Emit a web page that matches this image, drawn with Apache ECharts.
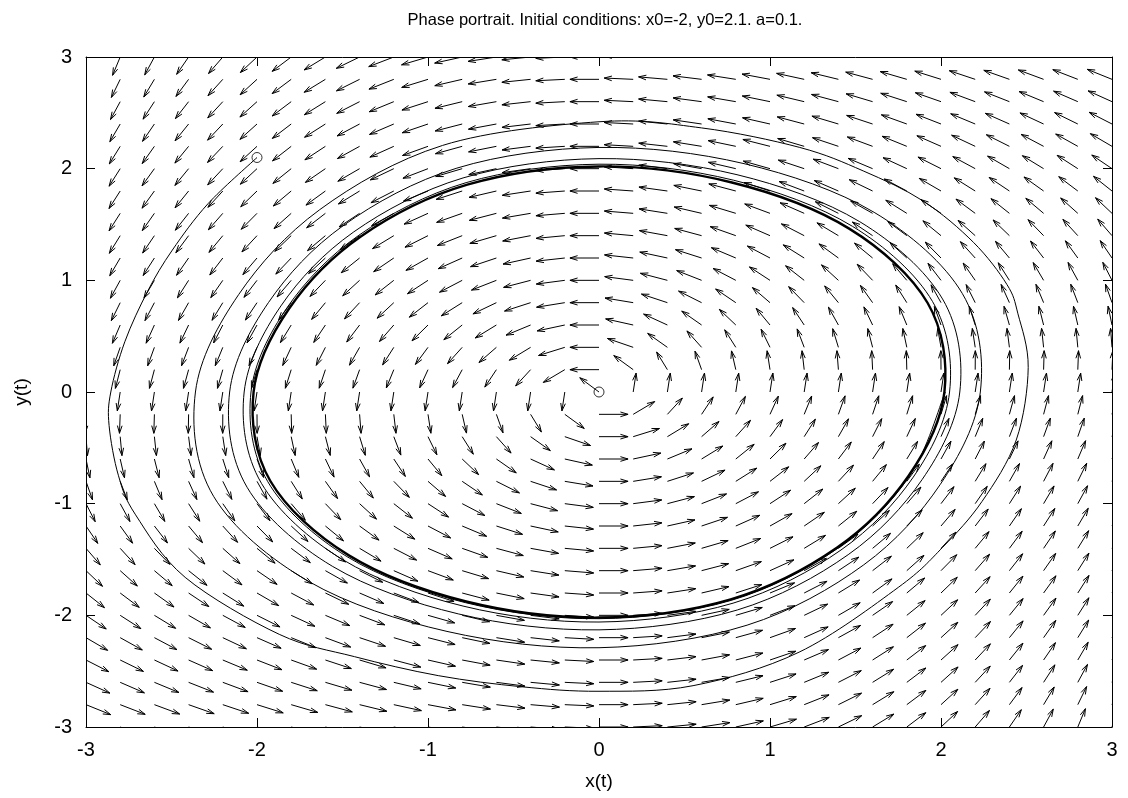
<!DOCTYPE html>
<html>
<head>
<meta charset="utf-8">
<script src="https://cdn.jsdelivr.net/npm/echarts/dist/echarts.min.js"></script>
<style>
  html, body { margin: 0; padding: 0; background: #fff; }
  #chart { width: 1128px; height: 798px; }
</style>
</head>
<body>
<div id="chart"></div>
<script>
// ---------------- DATA ----------------
const titleText = 'Phase portrait. Initial conditions: x0=-2, y0=2.1. a=0.1.';
const xAxisName = 'x(t)';
const yAxisName = 'y(t)';
const tickValues = [-3, -2, -1, 0, 1, 2, 3];

// Grid of arrow tails (columns left->right, rows top->bottom)
const gridX = [-3,-2.8,-2.6,-2.4,-2.2,-2,-1.8,-1.6,-1.4,-1.2,-1,-0.8,-0.6,-0.4,-0.2,0,0.2,0.4,0.6,0.8,1,1.2,1.4,1.6,1.8,2,2.2,2.4,2.6,2.8,3];
const gridY = [3,2.8,2.6,2.4,2.2,2,1.8,1.6,1.4,1.2,1,0.8,0.6,0.4,0.2,0,-0.2,-0.4,-0.6,-0.8,-1,-1.2,-1.4,-1.6,-1.8,-2,-2.2,-2.4,-2.6,-2.8,-3];

// Horizontal component of the arrow directions, one row per gridY value
const fieldVx = [
  [-0.6,-0.76,-0.92,-1.08,-1.24,-1.4,-1.56,-1.72,-1.88,-2.04,-2.2,-2.36,-2.52,-2.68,-2.84,-3,-3.16,-3.32,-3.48,-3.64,-3.8,-3.96,-4.12,-4.28,-4.44,-4.6,-4.76,-4.92,-5.08,-5.24,-5.4],
  [-0.75,-0.89,-1.02,-1.16,-1.3,-1.43,-1.57,-1.71,-1.84,-1.98,-2.12,-2.25,-2.39,-2.53,-2.66,-2.8,-2.94,-3.07,-3.21,-3.35,-3.48,-3.62,-3.76,-3.89,-4.03,-4.17,-4.31,-4.44,-4.58,-4.72,-4.85],
  [-0.87,-0.99,-1.1,-1.22,-1.33,-1.45,-1.56,-1.68,-1.79,-1.91,-2.02,-2.14,-2.25,-2.37,-2.49,-2.6,-2.72,-2.83,-2.95,-3.06,-3.18,-3.29,-3.41,-3.52,-3.64,-3.75,-3.87,-3.98,-4.1,-4.21,-4.33],
  [-0.97,-1.07,-1.16,-1.26,-1.35,-1.45,-1.54,-1.64,-1.73,-1.83,-1.92,-2.02,-2.11,-2.21,-2.3,-2.4,-2.5,-2.59,-2.69,-2.78,-2.88,-2.97,-3.07,-3.16,-3.26,-3.35,-3.45,-3.54,-3.64,-3.73,-3.83],
  [-1.05,-1.13,-1.2,-1.28,-1.36,-1.43,-1.51,-1.59,-1.66,-1.74,-1.82,-1.89,-1.97,-2.05,-2.12,-2.2,-2.28,-2.35,-2.43,-2.51,-2.58,-2.66,-2.74,-2.81,-2.89,-2.97,-3.05,-3.12,-3.2,-3.28,-3.35],
  [-1.1,-1.16,-1.22,-1.28,-1.34,-1.4,-1.46,-1.52,-1.58,-1.64,-1.7,-1.76,-1.82,-1.88,-1.94,-2,-2.06,-2.12,-2.18,-2.24,-2.3,-2.36,-2.42,-2.48,-2.54,-2.6,-2.66,-2.72,-2.78,-2.84,-2.9],
  [-1.13,-1.17,-1.22,-1.26,-1.31,-1.35,-1.4,-1.44,-1.49,-1.53,-1.58,-1.62,-1.67,-1.71,-1.76,-1.8,-1.85,-1.89,-1.93,-1.98,-2.02,-2.07,-2.11,-2.16,-2.2,-2.25,-2.29,-2.34,-2.38,-2.43,-2.47],
  [-1.13,-1.16,-1.19,-1.23,-1.26,-1.29,-1.32,-1.35,-1.38,-1.41,-1.44,-1.48,-1.51,-1.54,-1.57,-1.6,-1.63,-1.66,-1.69,-1.73,-1.76,-1.79,-1.82,-1.85,-1.88,-1.91,-1.94,-1.97,-2.01,-2.04,-2.07],
  [-1.11,-1.13,-1.15,-1.17,-1.19,-1.21,-1.23,-1.25,-1.27,-1.29,-1.3,-1.32,-1.34,-1.36,-1.38,-1.4,-1.42,-1.44,-1.46,-1.48,-1.5,-1.52,-1.53,-1.55,-1.57,-1.59,-1.61,-1.63,-1.65,-1.67,-1.69],
  [-1.07,-1.08,-1.09,-1.09,-1.1,-1.11,-1.12,-1.13,-1.14,-1.15,-1.16,-1.17,-1.17,-1.18,-1.19,-1.2,-1.21,-1.22,-1.23,-1.24,-1.24,-1.25,-1.26,-1.27,-1.28,-1.29,-1.3,-1.31,-1.31,-1.32,-1.33],
  [-1,-1,-1,-1,-1,-1,-1,-1,-1,-1,-1,-1,-1,-1,-1,-1,-1,-1,-1,-1,-1,-1,-1,-1,-1,-1,-1,-1,-1,-1,-1],
  [-0.91,-0.9,-0.89,-0.89,-0.88,-0.87,-0.86,-0.86,-0.85,-0.84,-0.84,-0.83,-0.82,-0.81,-0.81,-0.8,-0.79,-0.79,-0.78,-0.77,-0.76,-0.76,-0.75,-0.74,-0.74,-0.73,-0.72,-0.71,-0.71,-0.7,-0.69],
  [-0.79,-0.78,-0.77,-0.75,-0.74,-0.73,-0.72,-0.7,-0.69,-0.68,-0.66,-0.65,-0.64,-0.63,-0.61,-0.6,-0.59,-0.57,-0.56,-0.55,-0.54,-0.52,-0.51,-0.5,-0.49,-0.47,-0.46,-0.45,-0.43,-0.42,-0.41],
  [-0.65,-0.64,-0.62,-0.6,-0.59,-0.57,-0.55,-0.53,-0.52,-0.5,-0.48,-0.47,-0.45,-0.43,-0.42,-0.4,-0.38,-0.37,-0.35,-0.33,-0.32,-0.3,-0.28,-0.27,-0.25,-0.23,-0.22,-0.2,-0.18,-0.17,-0.15],
  [-0.49,-0.47,-0.45,-0.43,-0.41,-0.39,-0.37,-0.35,-0.33,-0.32,-0.3,-0.28,-0.26,-0.24,-0.22,-0.2,-0.18,-0.16,-0.14,-0.12,-0.1,-0.09,-0.07,-0.05,-0.03,-0.01,0.01,0.03,0.05,0.07,0.09],
  [-0.3,-0.28,-0.26,-0.24,-0.22,-0.2,-0.18,-0.16,-0.14,-0.12,-0.1,-0.08,-0.06,-0.04,-0.02,0,0.02,0.04,0.06,0.08,0.1,0.12,0.14,0.16,0.18,0.2,0.22,0.24,0.26,0.28,0.3],
  [-0.09,-0.07,-0.05,-0.03,-0.01,0.01,0.03,0.05,0.07,0.09,0.1,0.12,0.14,0.16,0.18,0.2,0.22,0.24,0.26,0.28,0.3,0.32,0.33,0.35,0.37,0.39,0.41,0.43,0.45,0.47,0.49],
  [0.15,0.17,0.18,0.2,0.22,0.23,0.25,0.27,0.28,0.3,0.32,0.33,0.35,0.37,0.38,0.4,0.42,0.43,0.45,0.47,0.48,0.5,0.52,0.53,0.55,0.57,0.59,0.6,0.62,0.64,0.65],
  [0.41,0.42,0.43,0.45,0.46,0.47,0.49,0.5,0.51,0.52,0.54,0.55,0.56,0.57,0.59,0.6,0.61,0.63,0.64,0.65,0.66,0.68,0.69,0.7,0.72,0.73,0.74,0.75,0.77,0.78,0.79],
  [0.69,0.7,0.71,0.71,0.72,0.73,0.74,0.74,0.75,0.76,0.76,0.77,0.78,0.79,0.79,0.8,0.81,0.81,0.82,0.83,0.84,0.84,0.85,0.86,0.86,0.87,0.88,0.89,0.89,0.9,0.91],
  [1,1,1,1,1,1,1,1,1,1,1,1,1,1,1,1,1,1,1,1,1,1,1,1,1,1,1,1,1,1,1],
  [1.33,1.32,1.31,1.31,1.3,1.29,1.28,1.27,1.26,1.25,1.24,1.24,1.23,1.22,1.21,1.2,1.19,1.18,1.17,1.17,1.16,1.15,1.14,1.13,1.12,1.11,1.1,1.09,1.09,1.08,1.07],
  [1.69,1.67,1.65,1.63,1.61,1.59,1.57,1.55,1.53,1.52,1.5,1.48,1.46,1.44,1.42,1.4,1.38,1.36,1.34,1.32,1.3,1.29,1.27,1.25,1.23,1.21,1.19,1.17,1.15,1.13,1.11],
  [2.07,2.04,2.01,1.97,1.94,1.91,1.88,1.85,1.82,1.79,1.76,1.73,1.69,1.66,1.63,1.6,1.57,1.54,1.51,1.48,1.44,1.41,1.38,1.35,1.32,1.29,1.26,1.23,1.19,1.16,1.13],
  [2.47,2.43,2.38,2.34,2.29,2.25,2.2,2.16,2.11,2.07,2.02,1.98,1.93,1.89,1.85,1.8,1.76,1.71,1.67,1.62,1.58,1.53,1.49,1.44,1.4,1.35,1.31,1.26,1.22,1.17,1.13],
  [2.9,2.84,2.78,2.72,2.66,2.6,2.54,2.48,2.42,2.36,2.3,2.24,2.18,2.12,2.06,2,1.94,1.88,1.82,1.76,1.7,1.64,1.58,1.52,1.46,1.4,1.34,1.28,1.22,1.16,1.1],
  [3.35,3.28,3.2,3.12,3.05,2.97,2.89,2.81,2.74,2.66,2.58,2.51,2.43,2.35,2.28,2.2,2.12,2.05,1.97,1.89,1.82,1.74,1.66,1.59,1.51,1.43,1.36,1.28,1.2,1.13,1.05],
  [3.83,3.73,3.64,3.54,3.45,3.35,3.26,3.16,3.07,2.97,2.88,2.78,2.69,2.59,2.5,2.4,2.3,2.21,2.11,2.02,1.92,1.83,1.73,1.64,1.54,1.45,1.35,1.26,1.16,1.07,0.97],
  [4.33,4.21,4.1,3.98,3.87,3.75,3.64,3.52,3.41,3.29,3.18,3.06,2.95,2.83,2.72,2.6,2.49,2.37,2.25,2.14,2.02,1.91,1.79,1.68,1.56,1.45,1.33,1.22,1.1,0.99,0.87],
  [4.85,4.72,4.58,4.44,4.31,4.17,4.03,3.89,3.76,3.62,3.48,3.35,3.21,3.07,2.94,2.8,2.66,2.53,2.39,2.25,2.12,1.98,1.84,1.71,1.57,1.43,1.3,1.16,1.02,0.89,0.75],
  [5.4,5.24,5.08,4.92,4.76,4.6,4.44,4.28,4.12,3.96,3.8,3.64,3.48,3.32,3.16,3,2.84,2.68,2.52,2.36,2.2,2.04,1.88,1.72,1.56,1.4,1.24,1.08,0.92,0.76,0.6]
];
// Vertical component of the arrow directions, one value per gridX column
const fieldVy = [-3,-2.8,-2.6,-2.4,-2.2,-2,-1.8,-1.6,-1.4,-1.2,-1,-0.8,-0.6,-0.4,-0.2,0,0.2,0.4,0.6,0.8,1,1.2,1.4,1.6,1.8,2,2.2,2.4,2.6,2.8,3];
// Direction of the arrow drawn at the equilibrium point (0, 0)
const equilibriumArrow = [-0.11, 0.125];

// Trajectory from (x0, y0) spiralling onto the limit cycle
const trajectory = [
  [-2.0,2.1],[-2.286,1.687],[-2.495,1.271],[-2.639,0.904],[-2.773,0.45],[-2.855,0.0],[-2.865,-0.3],[-2.81,-0.75],
  [-2.71,-1.1],[-2.42,-1.66],[-1.87,-2.17],[-1.43,-2.37],[-0.94,-2.54],[-0.45,-2.64],[0,-2.68],[0.55,-2.63],
  [1.17,-2.33],[1.75,-1.75],[2.01,-1.39],[2.24,-0.98],[2.44,-0.43],[2.51,0.22],[2.45,0.7],[2.385,0.964],
  [2.19,1.34],[1.896,1.71],[1.545,1.98],[1.174,2.19],[0.6,2.365],[0,2.42],
  [-0.915,2.208],[-1.633,1.633],[-2.107,0.873],[-2.36,0],[-2.254,-0.934],[-1.697,-1.697],[-0.889,-2.144],[0,-2.29],
  [0.866,-2.088],[1.548,-1.548],[1.996,-0.827],[2.23,0],[2.125,0.881],[1.609,1.609],[0.848,2.045],[0,2.19],
  [-0.831,2.005],[-1.493,1.493],[-1.933,0.801],[-2.16,0],[-2.058,-0.853],[-1.56,-1.56],[-0.823,-1.987],[0,-2.13],
  [0.809,-1.952],[1.457,-1.457],[1.89,-0.783],[2.11,0],[2.009,0.833],[1.525,1.525],[0.807,1.946],[0,2.09],
  [-0.795,1.917],[-1.434,1.434],[-1.86,0.771],[-2.075,0],[-1.974,-0.818],[-1.5,-1.5],[-0.795,-1.917],[0,-2.06],
  [0.784,-1.891],[1.415,-1.415],[1.838,-0.762],[2.05,0],[1.951,0.809],[1.483,1.483],[0.786,1.897],[0,2.04],
  [-0.777,1.875],[-1.404,1.404],[-1.824,0.756],[-2.035,0],[-1.937,-0.803],[-1.474,-1.474],[-0.782,-1.886],[0,-2.03],
  [0.773,-1.866],[1.398,-1.398],[1.816,-0.753],[2.025,0]
];
// The closed limit cycle the trajectory settles on (traced many times in the reference)
const limitCycle = [
  [2.02,0],[1.922,0.797],[1.463,1.463],[0.777,1.876],[0,2.02],[-0.77,1.857],[-1.393,1.393],[-1.811,0.75],
  [-2.02,0],[-1.922,-0.797],[-1.463,-1.463],[-0.777,-1.876],[0,-2.02],[0.77,-1.857],[1.393,-1.393],[1.811,-0.75]
];
// Marked points: initial condition and equilibrium
const markedPoints = [[-2, 2.1], [0, 0]];

// ---------------- STYLE ----------------
const FONT = 'Liberation Sans, Arial, Helvetica, sans-serif';
const ARROW_LEN = 0.17;              // arrow length in data units
const HEAD_LEN = 8;                  // px
const HEAD_ANGLE = 17 * Math.PI / 180;

// Build the vector-field table from the arrays
const fieldData = [];
for (let r = 0; r < gridY.length; r++) {
  for (let c = 0; c < gridX.length; c++) {
    let vx = fieldVx[r][c], vy = fieldVy[c];
    if (vx === 0 && vy === 0) { vx = equilibriumArrow[0]; vy = equilibriumArrow[1]; }
    fieldData.push([gridX[c], gridY[r], vx, vy]);
  }
}

function renderArrow(params, api) {
  const x = api.value(0), y = api.value(1);
  const vx = api.value(2), vy = api.value(3);
  const m = Math.hypot(vx, vy);
  const ux = vx / m, uy = vy / m;
  const p0 = api.coord([x, y]);
  const p1 = api.coord([x + ARROW_LEN * ux, y + ARROW_LEN * uy]);
  const ang = Math.atan2(p1[1] - p0[1], p1[0] - p0[0]);
  const h1 = [p1[0] - HEAD_LEN * Math.cos(ang - HEAD_ANGLE), p1[1] - HEAD_LEN * Math.sin(ang - HEAD_ANGLE)];
  const h2 = [p1[0] - HEAD_LEN * Math.cos(ang + HEAD_ANGLE), p1[1] - HEAD_LEN * Math.sin(ang + HEAD_ANGLE)];
  return {
    type: 'group',
    children: [
      { type: 'line', shape: { x1: p0[0], y1: p0[1], x2: p1[0], y2: p1[1] }, style: { stroke: '#000', lineWidth: 1 } },
      { type: 'polyline', shape: { points: [h1, p1, h2] }, style: { stroke: '#000', fill: null, lineWidth: 1 } }
    ]
  };
}

// Smooth curve through the given data points (Catmull-Rom drawn as cubic Beziers in pixel space)
function curveRenderer(points, closed, width) {
  return function (params, api) {
    if (params.dataIndex !== 0) return null;
    const px = points.map(p => api.coord(p));
    const n = px.length;
    const get = i => closed ? px[(i + n) % n] : px[Math.max(0, Math.min(n - 1, i))];
    const f = v => v.toFixed(2);
    let d = 'M' + f(px[0][0]) + ' ' + f(px[0][1]);
    const segs = closed ? n : n - 1;
    for (let i = 0; i < segs; i++) {
      const p0 = get(i - 1), p1 = get(i), p2 = get(i + 1), p3 = get(i + 2);
      const c1 = [p1[0] + (p2[0] - p0[0]) / 6, p1[1] + (p2[1] - p0[1]) / 6];
      const c2 = [p2[0] - (p3[0] - p1[0]) / 6, p2[1] - (p3[1] - p1[1]) / 6];
      d += ' C' + f(c1[0]) + ' ' + f(c1[1]) + ' ' + f(c2[0]) + ' ' + f(c2[1]) + ' ' + f(p2[0]) + ' ' + f(p2[1]);
    }
    if (closed) d += ' Z';
    return { type: 'path', shape: { pathData: d }, style: { stroke: '#000', fill: null, lineWidth: width } };
  };
}

const axisCommon = {
  type: 'value', min: -3, max: 3, interval: 1,
  axisLine: { show: true, onZero: false, lineStyle: { color: '#000', width: 1 } },
  axisTick: { show: true, inside: true, length: 9, lineStyle: { color: '#000', width: 1 } },
  splitLine: { show: false }
};

const chart = echarts.init(document.getElementById('chart'), null, { renderer: 'canvas' });
chart.setOption({
  animation: false,
  backgroundColor: '#fff',
  title: {
    text: titleText, left: 600, top: 7, textAlign: 'center',
    textStyle: { fontFamily: FONT, fontSize: 16.5, fontWeight: 'normal', color: '#000' }
  },
  grid: { left: 86, right: 16, top: 57, bottom: 71, show: false },
  xAxis: [
    Object.assign({}, axisCommon, {
      position: 'bottom',
      axisLabel: { color: '#000', fontFamily: FONT, fontSize: 20, margin: 13,
        formatter: v => tickValues.includes(v) ? String(v) : '' },
      name: xAxisName, nameLocation: 'middle', nameGap: 45,
      nameTextStyle: { color: '#000', fontFamily: FONT, fontSize: 19 }
    }),
    Object.assign({}, axisCommon, { position: 'top', axisLabel: { show: false } })
  ],
  yAxis: [
    Object.assign({}, axisCommon, {
      position: 'left',
      axisLabel: { color: '#000', fontFamily: FONT, fontSize: 20, margin: 14,
        formatter: v => tickValues.includes(v) ? String(v) : '' },
      name: yAxisName, nameLocation: 'middle', nameGap: 55, nameRotate: 90,
      nameTextStyle: { color: '#000', fontFamily: FONT, fontSize: 19 }
    }),
    Object.assign({}, axisCommon, { position: 'right', axisLabel: { show: false } })
  ],
  series: [
    {
      type: 'custom', name: 'field', xAxisIndex: 0, yAxisIndex: 0,
      renderItem: renderArrow, data: fieldData, clip: true,
      encode: { x: 0, y: 1 }, silent: true
    },
    {
      type: 'custom', name: 'trajectory', xAxisIndex: 0, yAxisIndex: 0,
      renderItem: curveRenderer(trajectory, false, 1), data: trajectory, clip: true,
      encode: { x: 0, y: 1 }, silent: true
    },
    {
      type: 'custom', name: 'limit cycle', xAxisIndex: 0, yAxisIndex: 0,
      renderItem: curveRenderer(limitCycle, true, 2.4), data: limitCycle, clip: true,
      encode: { x: 0, y: 1 }, silent: true
    },
    {
      type: 'scatter', name: 'points', xAxisIndex: 0, yAxisIndex: 0,
      data: markedPoints, symbol: 'circle', symbolSize: 10,
      itemStyle: { color: 'rgba(255,255,255,0)', borderColor: '#000', borderWidth: 1 }, silent: true
    }
  ]
});
</script>
</body>
</html>
